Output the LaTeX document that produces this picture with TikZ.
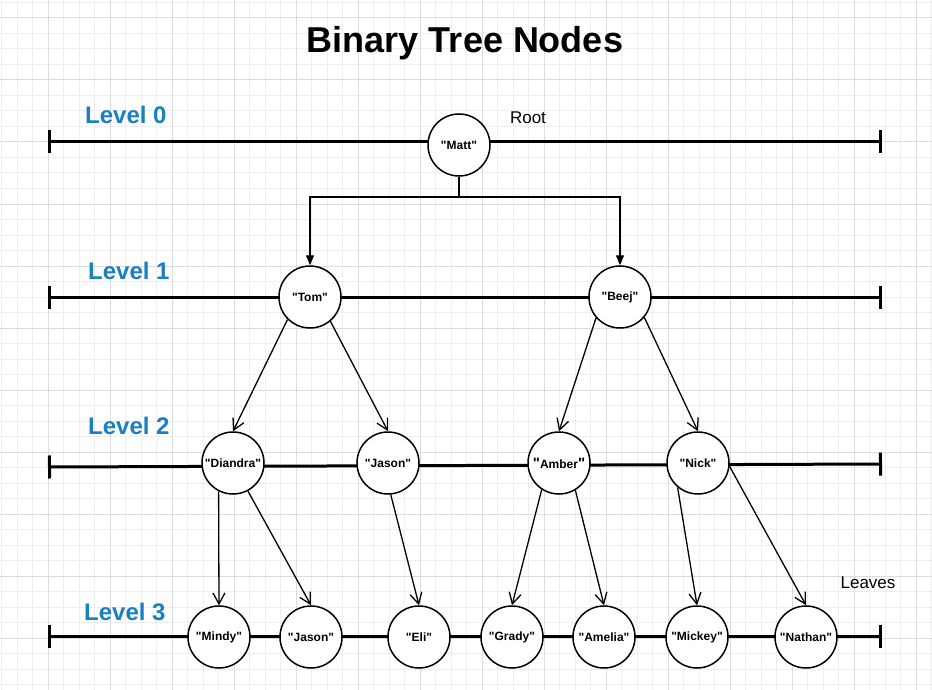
\documentclass[tikz,border=0pt]{standalone}
\usepackage{fontspec}
\setmainfont{Liberation Sans}[Ligatures=TeXOff]
\usetikzlibrary{arrows.meta}
\definecolor{levelblue}{HTML}{1A80C2}
\definecolor{gridminor}{HTML}{EEEEEE}
\definecolor{gridmajor}{HTML}{DCDCDC}

\begin{document}
\begin{tikzpicture}[
  x=1pt, y=-1pt,
  treenode/.style={draw, circle, fill=white, line width=1.5pt, minimum size=62pt, inner sep=0pt, font=\fontsize{12}{12}\selectfont\bfseries},
  levelline/.style={line width=3pt, {Bar[width=23pt]}-{Bar[width=23pt]}},
  levellabel/.style={anchor=west, inner sep=0pt, text=levelblue, font=\fontsize{24}{24}\selectfont\bfseries},
  note/.style={inner sep=0pt, font=\fontsize{17}{17}\selectfont},
  child/.style={line width=1.3pt, -{Straight Barb[length=11pt,width=12pt]}},
  rootlink/.style={line width=1.3pt},
  >={Triangle[length=10pt,width=8pt]}
]
\useasboundingbox (0,0) rectangle (932,690);
\fill[white] (0,0) rectangle (932,690);

% Background grid
\foreach \i in {0,...,60}
  \draw[gridminor, line width=1pt] ({1.5+15.5*\i},0) -- ({1.5+15.5*\i},690);
\foreach \j in {0,...,44}
  \draw[gridminor, line width=1pt] (0,{2.5+15.5*\j}) -- (932,{2.5+15.5*\j});
\foreach \k in {0,...,14}
  \draw[gridmajor, line width=1pt] ({48+62*\k},0) -- ({48+62*\k},690);
\foreach \k in {0,...,10}
  \draw[gridmajor, line width=1pt] (0,{18+62*\k}) -- (932,{18+62*\k});

% Title
\node[inner sep=0pt, font=\fontsize{36}{36}\selectfont\bfseries] (title) at (465,43) {Binary Tree Nodes};

% Level lines
\coordinate (l0w) at (48,142);  \coordinate (l0e) at (882,142);
\coordinate (l1w) at (48,297);  \coordinate (l1e) at (882,297);
\coordinate (l2w) at (48,467);  \coordinate (l2e) at (882,464);
\coordinate (l3w) at (48,636);  \coordinate (l3e) at (882,636);
\draw[levelline] (l0w) -- (l0e);
\draw[levelline] (l1w) -- (l1e);
\draw[levelline] (l2w) -- (l2e);
\draw[levelline] (l3w) -- (l3e);

% Level labels
\node[levellabel] (lev0) at (85,115) {Level 0};
\node[levellabel] (lev1) at (88,271) {Level 1};
\node[levellabel] (lev2) at (88,426) {Level 2};
\node[levellabel] (lev3) at (84,612) {Level 3};
\node[note] (rootlbl) at (528,118) {Root};
\node[note] (leaveslbl) at (868,583) {Leaves};

% Level 0
\node[treenode] (matt) at (459,145) {"Matt"};
% Level 1
\node[treenode] (tom) at (310,297) {"Tom"};
\node[treenode] (beej) at (620,297) {"Beej"};
% Level 2
\node[treenode] (diandra) at (233,463) {"Diandra"};
\node[treenode] (jason) at (388,463) {"Jason"};
\node[treenode] (amber) at (559,463) {{\fontsize{15}{15}\selectfont"}Amber{\fontsize{15}{15}\selectfont"}};
\node[treenode] (nick) at (698,463) {"Nick"};
% Level 3
\node[treenode] (mindy) at (219,637) {"Mindy"};
\node[treenode] (jasonb) at (311,637) {"Jason"};
\node[treenode] (eli) at (419,637) {"Eli"};
\node[treenode] (grady) at (512,637) {"Grady"};
\node[treenode] (amelia) at (604,637) {"Amelia"};
\node[treenode] (mickey) at (697,637) {"Mickey"};
\node[treenode] (nathan) at (806,637) {"Nathan"};

% Root links
\coordinate (split) at (459,197);
\draw[rootlink] (matt.south) -- (split);
\draw[rootlink, ->] (split) -| (tom.north);
\draw[rootlink, ->] (split) -| (beej.north);

% Children
\draw[child] (tom.225) -- (diandra.north);
\draw[child] (tom.310) -- (jason.north);
\draw[child] (beej.221) -- (amber.north);
\draw[child] (beej.320) -- (nick.north);
\draw[child] (diandra.243) -- (mindy.north);
\draw[child] (diandra.298) -- (jasonb.north);
\draw[child] (jason.275) -- (eli.north);
\draw[child] (amber.237) -- (grady.north);
\draw[child] (amber.301) -- (amelia.north);
\draw[child] (nick.230) -- (mickey.north);
\draw[child] (nick.354) -- (nathan.north);

\end{tikzpicture}
\end{document}
